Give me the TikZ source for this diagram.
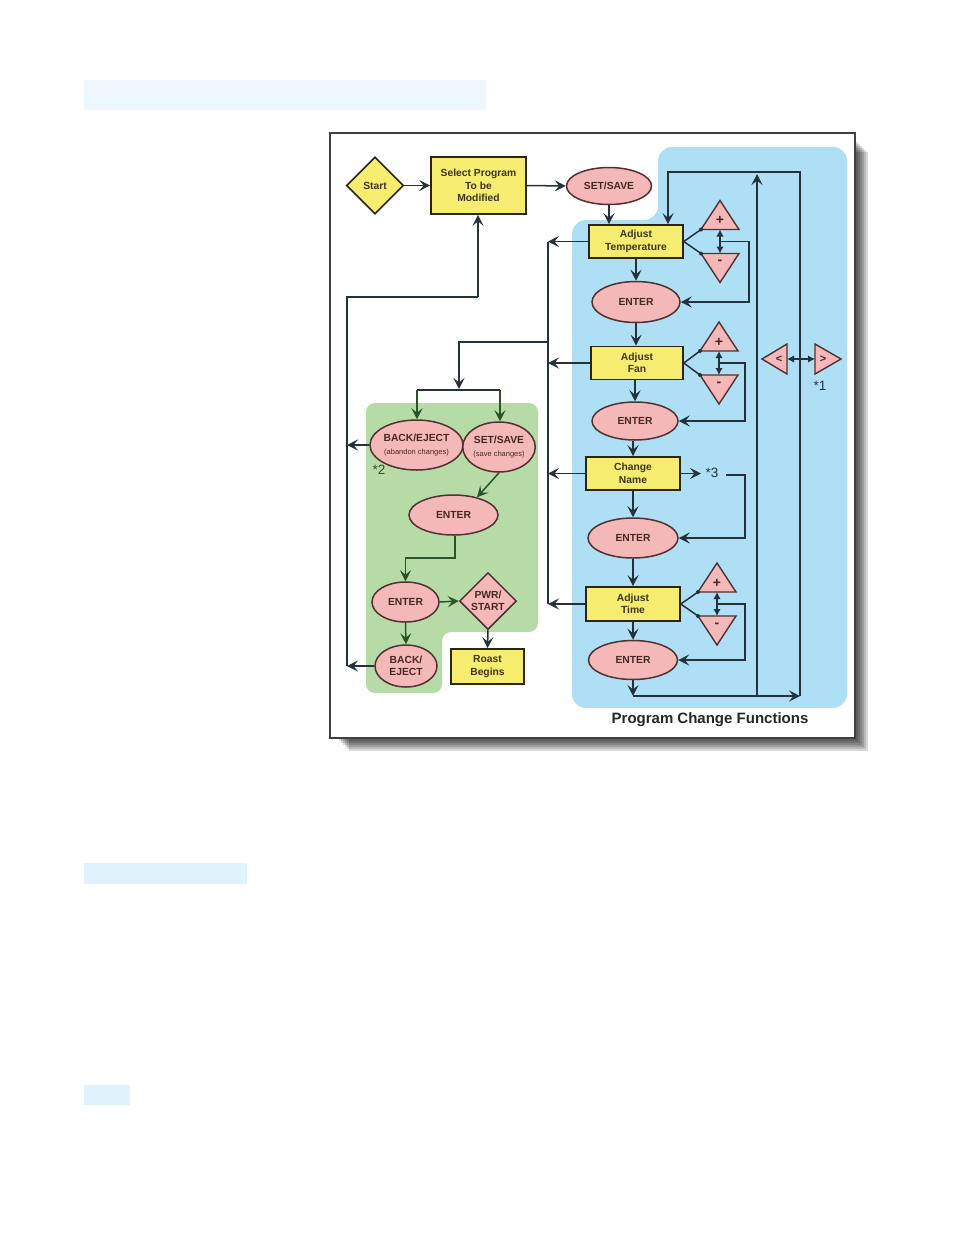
\documentclass[tikz,border=0pt]{standalone}
\usepackage{fontspec}
\setmainfont{Liberation Sans}
\usetikzlibrary{shapes.geometric,arrows.meta}
\definecolor{yel}{RGB}{246,236,112}
\definecolor{pnk}{RGB}{244,184,184}
\definecolor{bluereg}{RGB}{174,223,244}
\definecolor{greenreg}{RGB}{183,219,166}
\definecolor{ln}{RGB}{36,50,62}
\definecolor{gln}{RGB}{40,84,40}
\definecolor{ytxt}{RGB}{62,52,24}
\definecolor{ptxt}{RGB}{72,40,36}
\definecolor{pbord}{RGB}{80,50,48}
\definecolor{hdra}{RGB}{238,247,254}
\definecolor{hdrb}{RGB}{224,242,252}
\newcommand{\pmpair}[6]{%
  \coordinate (#1pl) at (#2-19,#3-12);
  \coordinate (#1pr) at (#2+19,#3-12);
  \coordinate (#1pa) at (#2,#3-41);
  \coordinate (#1ml) at (#2-19,#3+12);
  \coordinate (#1mr) at (#2+19,#3+12);
  \coordinate (#1ma) at (#2,#3+41);
  \filldraw[tri] (#1pl) -- (#1pr) -- (#1pa) -- cycle;
  \filldraw[tri] (#1ml) -- (#1mr) -- (#1ma) -- cycle;
  \node[sym] (#1p) at (#2,#3-21) {+};
  \node[sym] (#1m) at (#2,#3+21) {-};
  \draw[plain] (#4.east) -- (#1pl);
  \draw[plain] (#4.east) -- (#1ml);
  \fill[ln] (#1pl) circle (2);
  \fill[ln] (#1ml) circle (2);
  \coordinate (#1b) at (#2,#3-12);
  \coordinate (#1c) at (#2,#3+12);
  \draw[dbl] (#1b) -- (#1c);
  \coordinate (#1j) at (#2,#3);
  \coordinate (#1k) at (#6,#3);
  \draw[conn] (#1j) -- (#1k) |- (#5.east);
}
\begin{document}
\begin{tikzpicture}[x=1pt,y=-1pt,
  tip/.style={-{Stealth[length=11pt,width=11pt,inset=4.5pt]}},
  conn/.style={draw=ln, line width=1.5pt, tip},
  gconn/.style={draw=gln, line width=1.5pt, tip},
  plain/.style={draw=ln, line width=1.5pt},
  gplain/.style={draw=gln, line width=1.5pt},
  dbl/.style={draw=ln, line width=1.4pt, {Latex[length=7pt,width=7.5pt]}-{Latex[length=7pt,width=7.5pt]}},
  ybox/.style={rectangle, draw=ytxt!70!black, line width=1.6pt, fill=yel, inner sep=0pt, align=center, text=ytxt, font=\fontsize{10.3}{12.5}\selectfont\bfseries},
  pell/.style={ellipse, draw=pbord, line width=1.5pt, fill=pnk, inner sep=0pt, align=center, text=ptxt, font=\fontsize{10.3}{12.5}\selectfont\bfseries},
  ydia/.style={diamond, draw=ytxt!70!black, line width=1.6pt, fill=yel, inner sep=0pt, minimum width=57pt, minimum height=57pt, text=ytxt, font=\fontsize{10.3}{12.5}\selectfont\bfseries},
  pdia/.style={diamond, draw=pbord, line width=1.5pt, fill=pnk, inner sep=0pt, minimum width=57pt, minimum height=57pt},
  ptext/.style={inner sep=0pt, align=center, text=ptxt, font=\fontsize{10.3}{12.5}\selectfont\bfseries},
  tri/.style={draw=pbord, line width=1.4pt, fill=pnk},
  sym/.style={inner sep=0pt, text=ptxt, font=\fontsize{14}{14}\selectfont\bfseries},
  star/.style={inner sep=0pt, text=ln, font=\fontsize{13.5}{13.5}\selectfont},
]
\useasboundingbox (0,0) rectangle (954,1235);
\fill[white] (0,0) rectangle (954,1235);
% header bands
\fill[hdra] (84,80) rectangle (486,110);
\fill[hdrb] (84,863) rectangle (247,884);
\fill[hdrb] (84,1085) rectangle (130,1105);
% frame shadow
\foreach \d in {1,3,5,7,9,11,13,15} {
  \fill[black, opacity=0.15] (334+\d,137+\d) rectangle (853+\d,736+\d);
}
\draw[line width=1.4pt, draw=black!75, fill=white] (330,133) rectangle (855,738);
% regions
\fill[bluereg, rounded corners=14pt] (572,708) -- (572,220) -- (658,220) -- (658,147) -- (847,147) -- (847,708) -- cycle;
\fill[greenreg, rounded corners=9pt] (366,403) -- (538,403) -- (538,632) -- (442,632) -- (442,693) -- (366,693) -- cycle;

% main nodes
\node[ydia] (start) at (375,185.5) {Start};
\node[ybox, minimum width=95pt, minimum height=57pt] (sel) at (478.5,185.5) {Select Program\\To be\\Modified};
\node[pell, minimum width=85pt, minimum height=37pt] (ss1) at (609,186) {SET/SAVE};
\node[ybox, minimum width=94pt, minimum height=33pt] (temp) at (636,241.5) {Adjust\\Temperature};
\node[pell, minimum width=88pt, minimum height=41pt] (ent1) at (636,302) {ENTER};
\node[ybox, minimum width=92pt, minimum height=33pt] (fan) at (637,363) {Adjust\\Fan};
\node[pell, minimum width=86pt, minimum height=38pt] (ent2) at (635,421) {ENTER};
\node[ybox, minimum width=94pt, minimum height=33pt] (cname) at (633,473.5) {Change\\Name};
\node[pell, minimum width=90pt, minimum height=40pt] (ent3) at (633,538) {ENTER};
\node[ybox, minimum width=94pt, minimum height=34pt] (time) at (633,604) {Adjust\\Time};
\node[pell, minimum width=89pt, minimum height=39pt] (ent4) at (633,660) {ENTER};

% green area nodes
\node[pell, minimum width=83pt, minimum height=50pt] (be1) at (416.5,445) {BACK/EJECT\\[1pt]{\fontsize{7.5}{9}\selectfont\mdseries (abandon changes)}};
\node[pell, minimum width=72pt, minimum height=50pt] (ss2) at (499,447) {SET/SAVE\\[1pt]{\fontsize{7.5}{9}\selectfont\mdseries (save changes)}};
\node[pell, minimum width=89pt, minimum height=40pt] (gent1) at (453.5,515) {ENTER};
\node[pell, minimum width=67pt, minimum height=40pt] (gent2) at (405.5,602) {ENTER};
\node[pdia] (pwr) at (488,601) {};
\node[ptext] (pwrt) at (488,601) {PWR/\\START};
\node[ybox, minimum width=73pt, minimum height=35pt] (roast) at (487.5,666.5) {Roast\\Begins};
\node[pell, minimum width=62pt, minimum height=42pt] (be2) at (406,666) {BACK/\\EJECT};

% labels
\node[star] (star1) at (820,386) {*1};
\node[star, text=gln] (star2) at (379,470) {*2};
\node[star] (star3) at (712,473) {*3};
\node[inner sep=0pt, text=black!85, font=\fontsize{15}{15}\selectfont\bfseries] (title) at (710,720) {Program Change Functions};

% < > triangles
\coordinate (lta) at (762,359); \coordinate (ltb) at (787,344); \coordinate (ltc) at (787,374);
\coordinate (gta) at (841,359); \coordinate (gtb) at (815,344); \coordinate (gtc) at (815,374);
\filldraw[tri] (lta) -- (ltb) -- (ltc) -- cycle;
\filldraw[tri] (gta) -- (gtb) -- (gtc) -- cycle;
\node[sym, font=\fontsize{11}{11}\selectfont\bfseries] (lt) at (779,359) {<};
\node[sym, font=\fontsize{11}{11}\selectfont\bfseries] (gt) at (823,359) {>};
\coordinate (lte) at (787,359); \coordinate (gtw) at (815,359);
\draw[dbl] (lte) -- (gtw);

% plus / minus pairs
\pmpair{t}{720}{241.5}{temp}{ent1}{749}
\pmpair{f}{719}{363}{fan}{ent2}{745}
\pmpair{m}{717}{604}{time}{ent4}{745}

% main flow
\draw[conn] (start.east) -- (sel.west);
\draw[conn] (sel.east) -- (ss1.west);
\draw[conn] (ss1.south) -- (ss1.south |- temp.north);
\draw[conn] (temp.south) -- (temp.south |- ent1.north);
\draw[conn] (ent1.south) -- (ent1.south |- fan.north);
\draw[conn] (fan.south -| ent2) -- (ent2.north);
\draw[conn] (ent2.south -| cname) -- (cname.north);
\draw[conn] (cname.south) -- (ent3.north);
\draw[conn] (ent3.south) -- (time.north);
\draw[conn] (time.south) -- (ent4.north);

% Change Name *3
\coordinate (c3a) at (701,473.5);
\draw[conn] (cname.east) -- (c3a);
\coordinate (c3b) at (726,475);
\coordinate (c3c) at (745,475);
\draw[conn] (c3b) -- (c3c) |- (ent3.east);

% bottom loop
\coordinate (bl) at (633,696);
\coordinate (br) at (800,696);
\coordinate (mb) at (757,696);
\coordinate (mt) at (757,174);
\coordinate (rt) at (800,172);
\coordinate (lp) at (668,172);
\draw[conn] (ent4.south) -- (bl);
\draw[conn] (bl) -- (br);
\draw[conn] (mb) -- (mt);
\draw[conn] (br) -- (rt) -- (lp) -- (lp |- temp.north);

% left exits
\coordinate (vt) at (548,241.5);
\coordinate (vb) at (548,604);
\draw[plain] (vt) -- (vb);
\draw[conn] (temp.west) -- (vt);
\draw[conn] (fan.west) -- (fan.west -| vt);
\draw[conn] (cname.west) -- (cname.west -| vt);
\draw[conn] (time.west) -- (vb);
\coordinate (va) at (548,342);
\coordinate (vj) at (459,342);
\coordinate (jn) at (459,389);
\draw[conn] (va) -- (vj) -- (jn);
\coordinate (jl) at (417,390);
\coordinate (jr) at (500,390);
\draw[plain] (jl) -- (jr);
\draw[gconn] (jl) -- (jl |- be1.north);
\draw[gconn] (jr) -- (jr |- ss2.north);

% far left return
\coordinate (lt1) at (347,297);
\coordinate (lb1) at (347,666);
\coordinate (lx) at (478,297);
\draw[plain] (lb1) -- (lt1) -- (lx);
\draw[conn] (lx) -- (lx |- sel.south);
\draw[conn] (be1.west) -- (be1.west -| lt1);
\draw[conn] (be2.west) -- (lb1);

% green internal flow
\draw[gconn] (ss2.south) -- (gent1.37);
\coordinate (g1) at (455,558);
\draw[gconn] (gent1.south -| g1) -- (g1) -| (gent2.north);
\draw[gconn] (gent2.east) -- (pwr.west);
\draw[conn] (pwr.south) -- (roast.north);
\draw[gconn] (gent2.south) -- (be2.north);
\end{tikzpicture}
\end{document}
